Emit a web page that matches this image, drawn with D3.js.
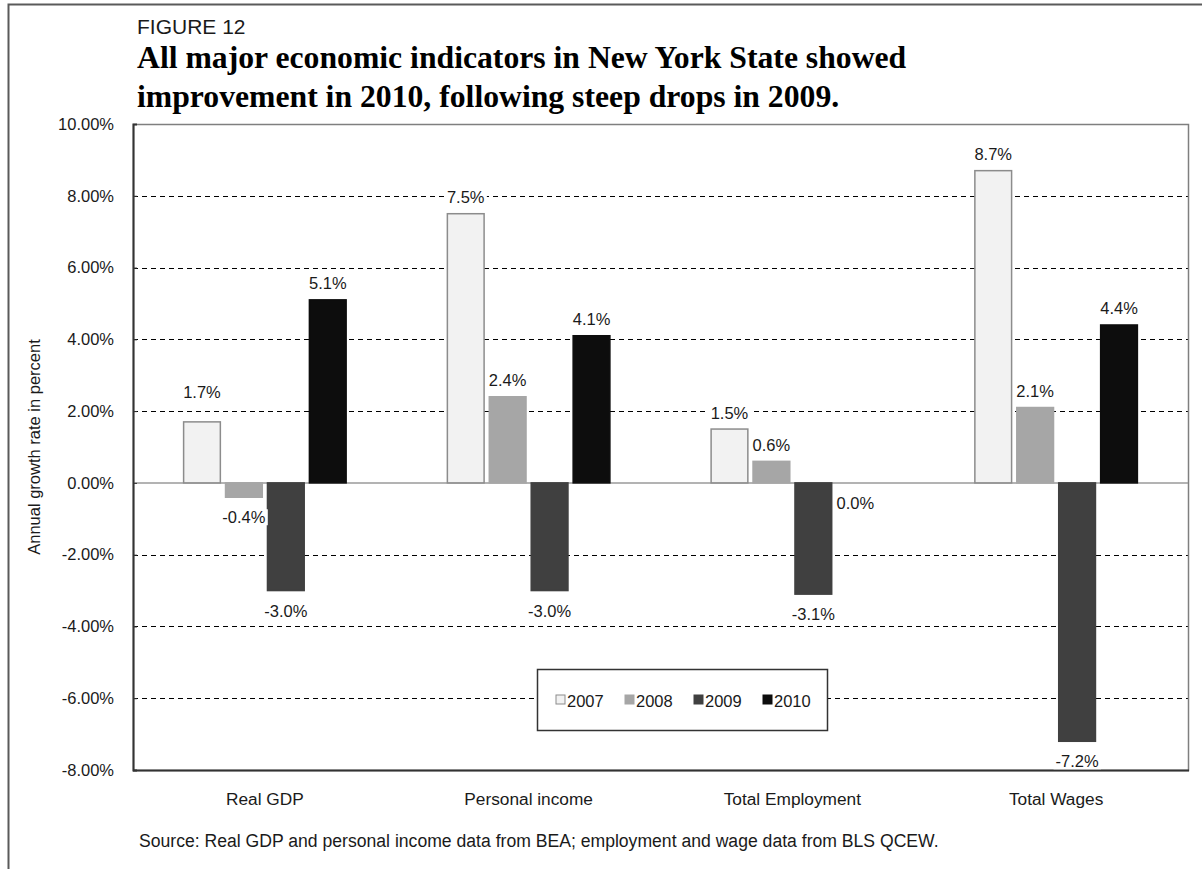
<!DOCTYPE html>
<html>
<head>
<meta charset="utf-8">
<script src="https://cdn.jsdelivr.net/npm/d3@7"></script>
<style>
  html, body { margin: 0; padding: 0; background: #fff; }
  svg { display: block; }
  text { font-family: "Liberation Sans", Arial, sans-serif; fill: #1a1a1a; }
</style>
</head>
<body>
<svg id="chart" width="1202" height="869"></svg>
<script>
// Annual growth rates (%) of New York State economic indicators
const categories = ["Real GDP", "Personal income", "Total Employment", "Total Wages"];
const years = ["2007", "2008", "2009", "2010"];
const values2007 = [1.7, 7.5, 1.5, 8.7];
const values2008 = [-0.4, 2.4, 0.6, 2.1];
const values2009 = [-3.0, -3.0, -3.1, -7.2];
const values2010 = [5.1, 4.1, 0.0, 4.4];
const yTicks = [10, 8, 6, 4, 2, 0, -2, -4, -6, -8];

const seriesValues = [values2007, values2008, values2009, values2010];
const fills = { "2007": "#f2f2f2", "2008": "#a6a6a6", "2009": "#404040", "2010": "#0d0d0d" };
const strokes = { "2007": "#8c8c8c", "2008": "#a6a6a6", "2009": "#404040", "2010": "#0d0d0d" };
// labels lifted clear of a gridline
const labelLift = { "Real GDP|2007": 13 };

// hyphen-minus for negative numbers
const locale = d3.formatLocale({ decimal: ".", thousands: ",", grouping: [3], currency: ["$", ""], minus: "-" });
const fmtTick = locale.format(".2f");
const fmtVal = locale.format(".1f");

const svg = d3.select("#chart");
const plot = { left: 133, right: 1188, top: 124, bottom: 770 };

// outer page frame (top and left edges)
svg.append("path")
  .attr("d", "M8.5,869 V4.5 H1202")
  .attr("fill", "none").attr("stroke", "#5a5a5a").attr("stroke-width", 2);

// headings
svg.append("text").attr("x", 137).attr("y", 34)
  .style("font-size", "21px").text("FIGURE 12");
const title = svg.append("text").attr("x", 137)
  .style("font-family", "'Liberation Serif', 'Times New Roman', serif")
  .style("font-weight", "bold").style("font-size", "31.7px").style("fill", "#000");
title.append("tspan").attr("x", 137).attr("y", 68).text("All major economic indicators in New York State showed");
title.append("tspan").attr("x", 137).attr("y", 107).text("improvement in 2010, following steep drops in 2009.");

const y = d3.scaleLinear().domain([-8, 10]).range([plot.bottom, plot.top]);
const x0 = d3.scaleBand().domain(categories).range([plot.left, plot.right])
  .paddingInner(0.38).paddingOuter(0.19);
const x1 = d3.scaleBand().domain(years).range([0, x0.bandwidth()]).paddingInner(0.1);

// dashed gridlines
svg.append("g").selectAll("line")
  .data(yTicks.filter(t => t !== 0 && t !== 10 && t !== -8))
  .join("line")
  .attr("x1", plot.left).attr("x2", plot.right)
  .attr("y1", d => Math.round(y(d)) + 0.5).attr("y2", d => Math.round(y(d)) + 0.5)
  .attr("stroke", "#000").attr("stroke-width", 1).attr("stroke-dasharray", "5,4");

// plot frame
svg.append("rect")
  .attr("x", plot.left + 0.5).attr("y", plot.top + 0.5)
  .attr("width", plot.right - plot.left).attr("height", plot.bottom - plot.top)
  .attr("fill", "none").attr("stroke", "#7f7f7f").attr("stroke-width", 1.5);

// zero line
svg.append("line")
  .attr("x1", plot.left).attr("x2", plot.right)
  .attr("y1", y(0)).attr("y2", y(0))
  .attr("stroke", "#9a9a9a").attr("stroke-width", 1.5);

// y axis, ticks pointing inward
const yAxis = d3.axisLeft(y).tickValues(yTicks).tickSize(-4).tickPadding(19)
  .tickFormat(d => fmtTick(d) + "%");
const gy = svg.append("g").attr("transform", `translate(${plot.left},0)`).call(yAxis);
gy.select(".domain").attr("stroke", "#333").attr("stroke-width", 2);
gy.selectAll(".tick line").attr("stroke", "#333");
gy.selectAll(".tick text").style("font-size", "16.5px").style("fill", "#1a1a1a")
  .style("font-family", "'Liberation Sans', Arial, sans-serif");

// bottom axis line
svg.append("line")
  .attr("x1", plot.left).attr("x2", plot.right + 1)
  .attr("y1", plot.bottom + 0.5).attr("y2", plot.bottom + 0.5)
  .attr("stroke", "#333").attr("stroke-width", 2);

// category labels
svg.append("g").selectAll("text").data(categories).join("text")
  .attr("x", d => x0(d) + x0.bandwidth() / 2).attr("y", 805)
  .attr("text-anchor", "middle").style("font-size", "17.3px").text(d => d);

// y axis title
svg.append("text")
  .attr("transform", `translate(40,${y(1)}) rotate(-90)`)
  .attr("text-anchor", "middle").style("font-size", "16.5px")
  .text("Annual growth rate in percent");

// bars
const rows = categories.map((c, i) => ({
  category: c,
  items: years.map((yr, j) => ({ category: c, year: yr, value: seriesValues[j][i] }))
}));

const groups = svg.append("g").selectAll("g").data(rows).join("g")
  .attr("transform", d => `translate(${x0(d.category)},0)`);

groups.selectAll("rect").data(d => d.items).join("rect")
  .attr("x", d => x1(d.year) + 0.5)
  .attr("y", d => Math.min(y(d.value), y(0)))
  .attr("width", x1.bandwidth() - 1)
  .attr("height", d => Math.abs(y(d.value) - y(0)))
  .attr("fill", d => fills[d.year])
  .attr("stroke", d => strokes[d.year]).attr("stroke-width", 1.5);

// value labels on a white backing so gridlines do not run through them
const labels = groups.selectAll("g.lbl").data(d => d.items).join("g").attr("class", "lbl");
labels.append("text")
  .attr("x", d => x1(d.year) + x1.bandwidth() / 2)
  .attr("y", d => (d.value > 0 ? y(d.value) - 10.5 : y(d.value) + 26) - (labelLift[d.category + "|" + d.year] || 0))
  .attr("text-anchor", "middle").style("font-size", "16.5px")
  .text(d => fmtVal(d.value) + "%");
labels.each(function() {
  const g = d3.select(this);
  const bb = g.select("text").node().getBBox();
  g.insert("rect", "text")
    .attr("x", bb.x - 2).attr("y", bb.y + 1)
    .attr("width", bb.width + 4).attr("height", bb.height - 2)
    .attr("fill", "#fff");
});

// legend
const lg = svg.append("g").attr("transform", "translate(537,669)");
lg.append("rect").attr("x", 0.5).attr("y", 0.5).attr("width", 290).attr("height", 61)
  .attr("fill", "#fff").attr("stroke", "#333").attr("stroke-width", 1.5);
const legendX = [19, 88, 157, 226];
const li = lg.selectAll("g.item").data(years).join("g").attr("class", "item")
  .attr("transform", (d, i) => `translate(${legendX[i]},31)`);
li.append("rect").attr("x", 0).attr("y", -5).attr("width", 9).attr("height", 9)
  .attr("fill", d => fills[d]).attr("stroke", d => strokes[d]).attr("stroke-width", 1);
li.append("text").attr("x", 11).attr("y", 6.5).style("font-size", "16.5px").text(d => d);

// source note
svg.append("text").attr("x", 139).attr("y", 847).style("font-size", "17.6px")
  .text("Source: Real GDP and personal income data from BEA; employment and wage data from BLS QCEW.");
</script>
</body>
</html>
